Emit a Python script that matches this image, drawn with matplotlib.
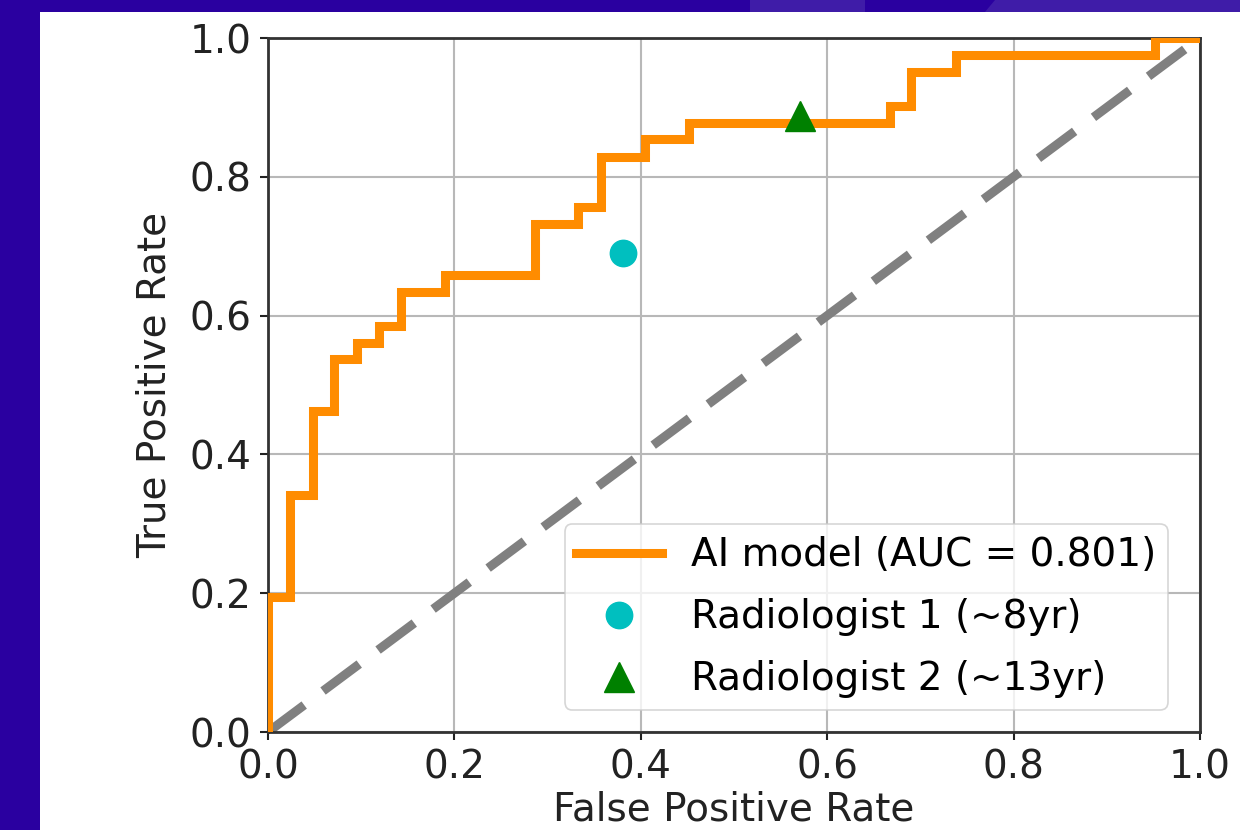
import matplotlib
matplotlib.use("Agg")
import matplotlib.pyplot as plt
from matplotlib.patches import Rectangle, Polygon

# ROC curve of the AI model (step points)
fpr = [0.0, 0.0, 0.024, 0.024, 0.048, 0.048, 0.071, 0.071, 0.095, 0.095, 0.119, 0.119,
       0.143, 0.143, 0.190, 0.190, 0.286, 0.286, 0.333, 0.333, 0.357, 0.357, 0.405, 0.405,
       0.452, 0.452, 0.667, 0.667, 0.690, 0.690, 0.738, 0.738, 0.952, 0.952, 1.0]
tpr = [0.0, 0.195, 0.195, 0.341, 0.341, 0.463, 0.463, 0.537, 0.537, 0.561, 0.561, 0.585,
       0.585, 0.634, 0.634, 0.659, 0.659, 0.732, 0.732, 0.756, 0.756, 0.829, 0.829, 0.854,
       0.854, 0.878, 0.878, 0.902, 0.902, 0.951, 0.951, 0.976, 0.976, 1.0, 1.0]
auc = 0.801

rad1 = (0.381, 0.69)
rad2 = (0.571, 0.888)

labels = ["AI model (AUC = 0.801)", "Radiologist 1 (~8yr)", "Radiologist 2 (~13yr)"]
ticks = [0.0, 0.2, 0.4, 0.6, 0.8, 1.0]

W, H = 1240, 830
FS = 28
fig = plt.figure(figsize=(W / 100, H / 100), dpi=100)
fig.patch.set_facecolor("#2a00a0")
# lighter shapes in the top band
fig.patches.append(Polygon([(750 / W, 1), (865 / W, 1), (865 / W, 1 - 12 / H), (750 / W, 1 - 12 / H)],
                           closed=True, transform=fig.transFigure, facecolor="#3f1ca8", edgecolor="none", zorder=-10))
fig.patches.append(Polygon([(995 / W, 1), (1240 / W, 1), (1240 / W, 1 - 12 / H), (985 / W, 1 - 12 / H)],
                           closed=True, transform=fig.transFigure, facecolor="#3f1ca8", edgecolor="none", zorder=-10))
fig.patches.append(Rectangle((40 / W, 0), 1 - 40 / W, 1 - 12 / H, transform=fig.transFigure,
                             facecolor="white", edgecolor="none", zorder=-10))

ax = fig.add_axes([268 / W, 1 - 732 / H, (1200 - 268) / W, (732 - 38) / H])
ax.set_zorder(1)
ax.set_facecolor("white")

ax.plot(fpr, tpr, color="darkorange", lw=6.5, label=labels[0], zorder=3, solid_joinstyle="miter")
ax.plot([0, 1], [0, 1], color="gray", lw=6.5, linestyle=(0, (5, 2.6)), zorder=2)
ax.plot([rad1[0]], [rad1[1]], "o", color="c", markersize=19, label=labels[1], zorder=4)
ax.plot([rad2[0]], [rad2[1]], "^", color="green", markersize=21, label=labels[2], zorder=4)

ax.set_xlim(0, 1)
ax.set_ylim(0, 1)
ax.set_xticks(ticks)
ax.set_yticks(ticks)
ax.tick_params(labelsize=FS, length=6, width=1.5, colors="#222222", pad=6)
ax.grid(True, color="#b8b8b8", lw=1.5)
ax.set_axisbelow(True)
for s in ax.spines.values():
    s.set_linewidth(2)
    s.set_color("#333333")
ax.set_xlabel("False Positive Rate", fontsize=FS, color="#222222", labelpad=3)
ax.set_ylabel("True Positive Rate", fontsize=FS, color="#222222", labelpad=11)

leg = ax.legend(loc="lower right", fontsize=FS, framealpha=0.8, borderpad=0.3,
                handlelength=2.2, handletextpad=0.75, labelspacing=0.62, borderaxespad=0,
                bbox_to_anchor=(1 - 32 / 932, 22 / 694))
leg.get_frame().set_linewidth(1.2)

fig.savefig("out.png", dpi=100, facecolor=fig.get_facecolor())
